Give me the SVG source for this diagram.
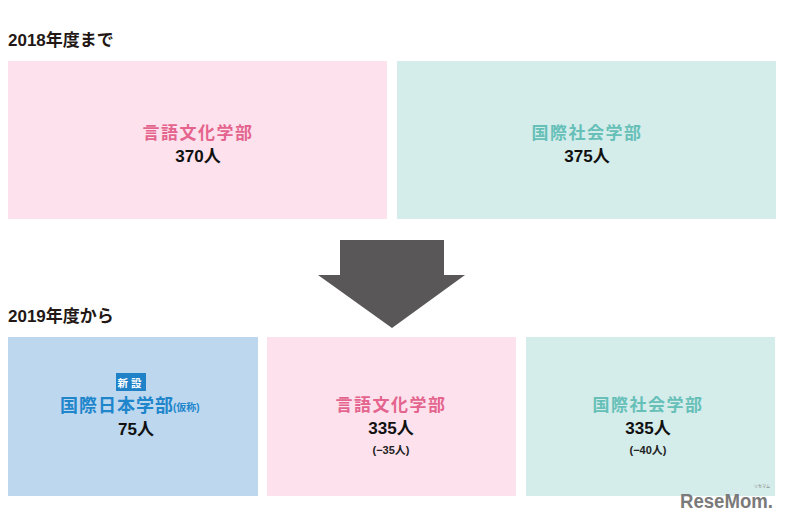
<svg xmlns="http://www.w3.org/2000/svg" width="790" height="523" viewBox="0 0 790 523">
<style>
text{font-family:"Liberation Sans","Noto Sans CJK JP",sans-serif;}
.head{font-size:17px;font-weight:700;fill:#231815;}
.dept{font-family:"Noto Sans CJK JP",sans-serif;font-size:17px;font-weight:700;letter-spacing:1.5px;text-anchor:middle;}
.num{font-size:17px;font-weight:700;fill:#111;text-anchor:middle;}
.diff{font-size:11px;font-weight:700;fill:#222;text-anchor:middle;}
.pink{fill:#fde1ed;}
.teal{fill:#d4ecea;}
.blue{fill:#bdd7ef;}
.pinkt{fill:#e4648e;}
.tealt{fill:#66c0b8;}
.bluet{fill:#1f86cc;}
</style>
<rect width="790" height="523" fill="#ffffff"/>
<text class="head" x="8" y="46">2018年度まで</text>
<text class="head" x="8" y="322">2019年度から</text>

<g id="node-gengo-2018">
<rect class="pink" x="8" y="61" width="379" height="158"/>
<text class="dept pinkt" x="198" y="139">言語文化学部</text>
<text class="num" x="198" y="162">370人</text>
</g>
<g id="node-kokusai-shakai-2018">
<rect class="teal" x="397" y="61" width="379" height="158"/>
<text class="dept tealt" x="587" y="139">国際社会学部</text>
<text class="num" x="587" y="162">375人</text>
</g>

<g id="connectors">
<polygon points="340,240 444,240 444,275 465,275 392,328 318,275 340,275" fill="#595757"/>
</g>

<g id="node-kokusai-nihon-2019">
<rect class="blue" x="8" y="337" width="250" height="159"/>
<rect x="116" y="373" width="30" height="18" fill="#1f82c8"/>
<text x="131" y="386.5" font-family="'Noto Sans CJK JP',sans-serif" font-size="10.5" font-weight="700" fill="#ffffff" text-anchor="middle" letter-spacing="3">新設</text>
<text class="bluet" x="60" y="412" font-family="'Noto Sans CJK JP',sans-serif" font-size="18" font-weight="700" letter-spacing="1">国際日本学部</text>
<text class="bluet" x="173" y="411" font-family="'Noto Sans CJK JP',sans-serif" font-size="10" font-weight="700">(仮称)</text>
<text class="num" x="136" y="435">75人</text>
</g>
<g id="node-gengo-2019">
<rect class="pink" x="267" y="337" width="249" height="159"/>
<text class="dept pinkt" x="391" y="411">言語文化学部</text>
<text class="num" x="391" y="434">335人</text>
<text class="diff" x="391" y="454">(−35人)</text>
</g>
<g id="node-kokusai-shakai-2019">
<rect class="teal" x="526" y="337" width="249" height="159"/>
<text class="dept tealt" x="648" y="411">国際社会学部</text>
<text class="num" x="648" y="434">335人</text>
<text class="diff" x="648" y="454">(−40人)</text>
</g>

<g id="watermark">
<text x="680" y="508" font-family="'Liberation Sans Narrow','Liberation Sans',sans-serif" font-size="20" font-weight="700" fill="#7a7a7a" textLength="93" lengthAdjust="spacingAndGlyphs">ReseMom.</text>
<text x="762" y="488" font-family="'Noto Sans CJK JP',sans-serif" font-size="4" fill="#7a7a7a" text-anchor="middle">リセマム</text>
</g>
</svg>
